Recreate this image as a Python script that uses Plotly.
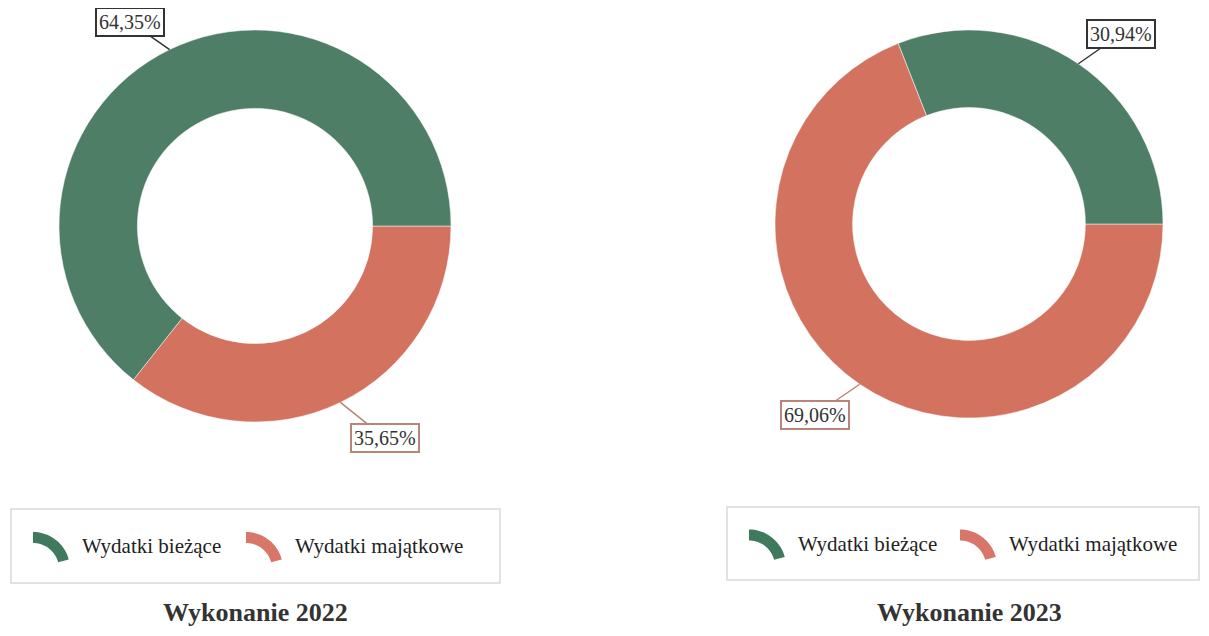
import numpy as np
import plotly.graph_objects as go

W, H = 1209, 636
OFF = 8  # page body margin
FW, FH = W - 2 * OFF, H - 2 * OFF

categories = ["Wydatki bieżące", "Wydatki majątkowe"]
years = ["2022", "2023"]
values_2022 = [64.35, 35.65]
values_2023 = [30.94, 69.06]
label_2022 = ["64,35%", "35,65%"]
label_2023 = ["30,94%", "69,06%"]

colors = ["#4f7e67", "#d2725f"]
legend_colors = ["#3f7a5e", "#d9766a"]
label_border = ["#333333", "#b88578"]

# pixel geometry for each donut (window pixels): centre x, centre y, radius
donuts = [(255, 226, 196), (969, 224, 194)]
# text box offsets from slice midpoint (px)
offsets = [[(-40, -28), (45, 36)], [(43, -30), (-45, 31)]]
# legend boxes (x0, y0, x1, y1) px
legend_boxes = [(11, 509, 500, 583), (727, 507, 1199, 580)]


def px(x, y):
    return (x - OFF) / FW, 1 - (y - OFF) / FH


fig = go.Figure()
annotations = []
shapes = []

for k, (vals, labs) in enumerate([(values_2022, label_2022), (values_2023, label_2023)]):
    cx, cy, r = donuts[k]
    x0, y1 = px(cx - r, cy - r)
    x1, y0 = px(cx + r, cy + r)
    # reversed order so the first category runs counterclockwise from 3 o'clock
    fig.add_trace(go.Pie(
        labels=categories[::-1], values=vals[::-1], hole=0.6, sort=False,
        direction="counterclockwise", rotation=90,
        marker=dict(colors=colors[::-1], line=dict(color="white", width=0.5)),
        textinfo="none", hoverinfo="label+percent", showlegend=False,
        domain=dict(x=[x0, x1], y=[y0, y1]),
    ))

    # boxed labels with leader lines from the slice midpoints
    start = 0.0
    tot = sum(vals)
    for i, v in enumerate(vals):
        mid = np.deg2rad((start + v / 2) / tot * 360)
        start += v
        ex, ey = cx + r * np.cos(mid), cy - r * np.sin(mid)
        ax, ay = offsets[k][i]
        xa, ya = px(ex, ey)
        annotations.append(dict(
            x=xa, y=ya, xref="paper", yref="paper", text=labs[i],
            showarrow=True, arrowhead=0, arrowwidth=1.5, arrowcolor=label_border[i],
            ax=ax, ay=ay, standoff=0,
            font=dict(family="Liberation Serif", size=20, color="#333333"),
            bordercolor=label_border[i], borderwidth=2, borderpad=2, bgcolor="white",
        ))

    # legend box
    bx0, by0, bx1, by1 = legend_boxes[k]
    lx0, ly0 = px(bx0, by1)
    lx1, ly1 = px(bx1, by0)
    shapes.append(dict(type="rect", xref="paper", yref="paper",
                       x0=lx0, y0=ly0, x1=lx1, y1=ly1,
                       line=dict(color="#d9d9d9", width=1.5), fillcolor="rgba(0,0,0,0)"))

    # legend entries: arc icon + text
    item_x = [bx0 + 22, bx0 + 235] if k == 0 else [bx0 + 22, bx0 + 233]
    ymid = (by0 + by1) / 2
    for i, name in enumerate(categories):
        ix = item_x[i]
        ocx, ocy = ix, ymid + 23
        ro, ri = 37, 26
        ang = np.deg2rad(np.linspace(90, 15, 20))
        outer = [(ocx + ro * np.cos(a), ocy - ro * np.sin(a)) for a in ang]
        inner = [(ocx + ri * np.cos(a), ocy - ri * np.sin(a)) for a in ang[::-1]]
        pts = [px(*p) for p in outer + inner]
        path = "M " + " L ".join(f"{a:.5f},{b:.5f}" for a, b in pts) + " Z"
        shapes.append(dict(type="path", xref="paper", yref="paper", path=path,
                           fillcolor=legend_colors[i], line=dict(width=0)))
        tx, ty = px(ix + 47, ymid)
        annotations.append(dict(
            x=tx, y=ty, xref="paper", yref="paper", text=name, showarrow=False,
            xanchor="left", yanchor="middle",
            font=dict(family="Liberation Serif", size=21, color="#222222"),
        ))

    # caption under the chart
    tx, ty = px(cx, 629)
    annotations.append(dict(
        x=tx, y=ty, xref="paper", yref="paper", text="<b>Wykonanie " + years[k] + "</b>",
        showarrow=False, xanchor="center", yanchor="bottom",
        font=dict(family="Liberation Serif", size=26, color="#333333"),
    ))

fig.update_layout(
    width=FW, height=FH, margin=dict(l=0, r=0, t=0, b=0),
    paper_bgcolor="white", plot_bgcolor="white",
    annotations=annotations, shapes=shapes,
)

fig.write_html("out.html")
